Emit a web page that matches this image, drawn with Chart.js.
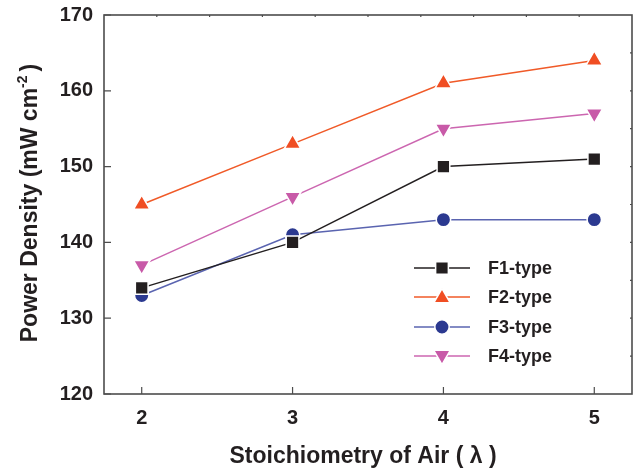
<!DOCTYPE html>
<html>
<head>
<meta charset="utf-8">
<script src="https://cdn.jsdelivr.net/npm/chart.js@4"></script>
<style>
html,body{margin:0;padding:0;background:#fff;}
#wrap{width:643px;height:471px;position:relative;}
</style>
</head>
<body>
<div id="wrap"><canvas id="c" width="643" height="471"></canvas></div>
<script>
// Data
const lambdaValues = [2, 3, 4, 5];
const xTickLabels = [2, 3, 4, 5];
const yTickLabels = [120, 130, 140, 150, 160, 170];
const seriesNames = ['F1-type', 'F2-type', 'F3-type', 'F4-type'];
const f1Values = [134, 140, 150, 151];
const f2Values = [145, 153, 161, 164];
const f3Values = [133, 141, 143, 143];
const f4Values = [137, 146, 155, 157];

const FONT = '"Liberation Sans", Arial, Helvetica, sans-serif';
const AXIS = '#4d4d4d';
const TEXT = '#231f20';

function pts(vals){ return lambdaValues.map((x,i)=>({x:x, y:vals[i]})); }

const styles = [
  {line:'#231f20', fill:'#231f20', shape:'rect', r:9, rot:0},
  {line:'#f05a28', fill:'#f04e23', shape:'triangle', r:9.5, rot:0},
  {line:'#5a64b0', fill:'#2b3990', shape:'circle', r:7.2, rot:0},
  {line:'#cc66b0', fill:'#c85aa8', shape:'triangle', r:9.5, rot:180}
];
const allValues = [f1Values, f2Values, f3Values, f4Values];

const datasets = allValues.map((v,i)=>({
  label: seriesNames[i],
  data: pts(v),
  borderColor: styles[i].line,
  borderWidth: 1.5,
  backgroundColor: styles[i].fill,
  pointBackgroundColor: styles[i].fill,
  pointBorderColor: '#ffffff',
  pointBorderWidth: 1.5,
  pointStyle: styles[i].shape,
  pointRotation: styles[i].rot,
  pointRadius: styles[i].r,
  pointHoverRadius: styles[i].r,
  tension: 0,
  fill: false
}));

const framePlugin = {
  id: 'frame',
  beforeDatasetsDraw(chart){
    const ctx = chart.ctx, a = chart.chartArea;
    const xs = chart.scales.x, ys = chart.scales.y;
    ctx.save();
    ctx.strokeStyle = AXIS;
    ctx.lineWidth = 1.6;
    ctx.strokeRect(a.left, a.top, a.right - a.left, a.bottom - a.top);
    ctx.lineWidth = 1.2;
    ctx.beginPath();
    xTickLabels.forEach(v=>{
      const px = xs.getPixelForValue(v);
      ctx.moveTo(px, a.bottom); ctx.lineTo(px, a.bottom - 7);
    });
    yTickLabels.forEach(v=>{
      const py = ys.getPixelForValue(v);
      ctx.moveTo(a.left, py); ctx.lineTo(a.left + 7, py);
    });
    for(let i=1;i<10;i++){
      const px = a.left + (a.right - a.left) * i / 10;
      ctx.moveTo(px, a.top); ctx.lineTo(px, a.top + 2);
    }
    for(let v=125; v<170; v+=5){
      const py = ys.getPixelForValue(v);
      ctx.moveTo(a.right, py); ctx.lineTo(a.right - 2, py);
    }
    ctx.stroke();
    ctx.restore();
  },
  afterDraw(chart){
    const ctx = chart.ctx, a = chart.chartArea;
    ctx.save();
    ctx.fillStyle = TEXT;
    ctx.font = 'bold 23px ' + FONT;
    ctx.textAlign = 'center';
    ctx.textBaseline = 'alphabetic';
    ctx.fillText('Stoichiometry of Air ( \u03bb )', 363, 463);
    ctx.translate(37, 203);
    ctx.rotate(-Math.PI/2);
    const main = 'Power Density (mW cm';
    const sup = '-2';
    const close = ')';
    ctx.font = 'bold 23px ' + FONT;
    const w1 = ctx.measureText(main).width;
    const w3 = ctx.measureText(close).width;
    ctx.font = 'bold 14px ' + FONT;
    const w2 = ctx.measureText(sup).width;
    const total = w1 + w2 + 4 + w3;
    const x0 = -total/2;
    ctx.textAlign = 'left';
    ctx.font = 'bold 23px ' + FONT;
    ctx.fillText(main, x0, 0);
    ctx.font = 'bold 14px ' + FONT;
    ctx.fillText(sup, x0 + w1, -10);
    ctx.font = 'bold 23px ' + FONT;
    ctx.fillText(close, x0 + w1 + w2 + 4, 0);
    ctx.restore();

    // legend
    ctx.save();
    const lx1 = 414, lx2 = 470, mx = 442, tx = 488;
    const ly = [268, 297, 327, 356];
    seriesNames.forEach((name,i)=>{
      const st = styles[i];
      const y = ly[i];
      ctx.strokeStyle = st.line;
      ctx.lineWidth = 1.4;
      ctx.beginPath();
      ctx.moveTo(lx1, y); ctx.lineTo(lx2, y);
      ctx.stroke();
      ctx.fillStyle = st.fill;
      ctx.strokeStyle = '#ffffff';
      ctx.lineWidth = 1.5;
      Chart.helpers.drawPoint(ctx, {
        pointStyle: st.shape, rotation: st.rot, radius: st.r, borderWidth: 1.5
      }, mx, y + (st.shape==='triangle' ? (st.rot ? -1 : 1) : 0));
      ctx.fillStyle = TEXT;
      ctx.font = 'bold 18px ' + FONT;
      ctx.textAlign = 'left';
      ctx.textBaseline = 'middle';
      ctx.fillText(name, tx, y + 1);
    });
    ctx.restore();
  }
};

new Chart(document.getElementById('c'), {
  type: 'line',
  data: { datasets: datasets },
  options: {
    responsive: false,
    animation: false,
    devicePixelRatio: 1,
    layout: { padding: { left: 0, top: 10, right: 2, bottom: 0 } },
    plugins: { legend: { display: false }, tooltip: { enabled: false } },
    scales: {
      x: {
        type: 'linear',
        min: 1.75, max: 5.25,
        afterFit(s){ s.height = 77; },
        afterBuildTicks(s){ s.ticks = xTickLabels.map(v=>({value:v})); },
        grid: { display: false },
        border: { display: false },
        ticks: { padding: 4, color: TEXT, font: { family: FONT, size: 20, weight: 'bold' }, maxRotation: 0 }
      },
      y: {
        type: 'linear',
        min: 120, max: 170,
        afterFit(s){ s.width = 104; },
        afterBuildTicks(s){ s.ticks = yTickLabels.map(v=>({value:v})); },
        grid: { display: false },
        border: { display: false },
        ticks: { padding: 3, color: TEXT, font: { family: FONT, size: 20, weight: 'bold' } }
      }
    }
  },
  plugins: [framePlugin]
});
</script>
</body>
</html>
